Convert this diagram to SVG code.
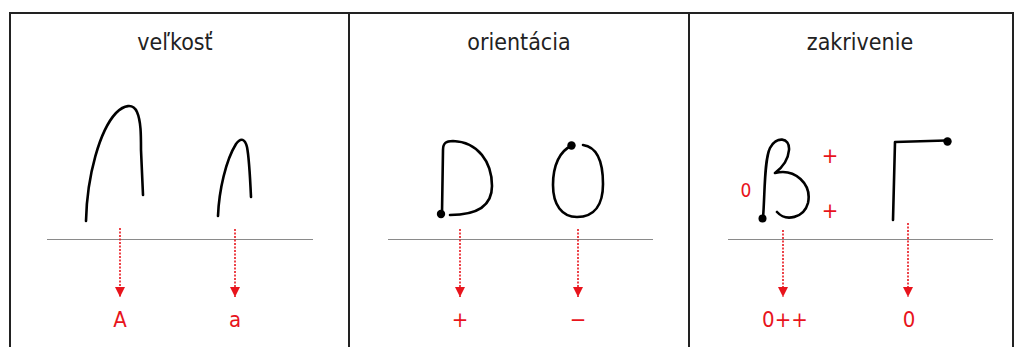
<svg xmlns="http://www.w3.org/2000/svg" width="1016" height="347" viewBox="0 0 1016 347">
<style>
.frame{fill:none;stroke:#222;stroke-width:2}
.base{stroke:#8a8a8a;stroke-width:1.2}
.title{font-family:"DejaVu Sans Condensed","DejaVu Sans",sans-serif;font-size:23px;fill:#222;text-anchor:middle}
.lbl{font-family:"DejaVu Sans Condensed","DejaVu Sans",sans-serif;font-size:22px;fill:#e8141c;text-anchor:middle}
.sm{font-size:19px}
.ink{fill:none;stroke:#000;stroke-width:2.6;stroke-linecap:round;stroke-linejoin:round}
.arr{stroke:#e8141c;stroke-width:1.6;stroke-dasharray:2 1.5;marker-end:url(#ah)}
.dot{fill:#000}
</style>
<defs>
<marker id="ah" viewBox="0 0 10 10" refX="10" refY="5" markerWidth="10" markerHeight="10" markerUnits="userSpaceOnUse" orient="auto">
<path d="M0,0 L10,5 L0,10 Z" fill="#e8141c"/>
</marker>
</defs>
<rect width="1016" height="347" fill="#fff"/>
<g id="frame">
<path class="frame" d="M10,348 V13 H1013 V348 M349,13 V348 M689,13 V348"/>
</g>
<g id="panel-velkost">
<text class="title" x="175" y="50">veľkosť</text>
<line class="base" x1="47" y1="239.5" x2="313" y2="239.5"/>
<path class="ink" d="M86,221 C87,175 100,130 116,113 C124,105 133,103 137,112 C141,121 141,135 141,150 L143,195" stroke-width="3"/>
<path class="ink" stroke-width="1.6" d="M218,216 C219,190 226,160 236,144 C241,137 245,139 247,147 C249,157 250,175 251,197"/>
</g>
<g id="panel-orientacia">
<text class="title" x="519" y="50">orientácia</text>
<line class="base" x1="388" y1="239.5" x2="653" y2="239.5"/>
<path class="ink" d="M442,213 L443,150 C443,143 446,141 453,141 C478,142 492,162 492,186 C492,205 479,215 450,215"/>
<circle class="dot" cx="441" cy="214" r="4.2"/>
<path class="ink" d="M571,146 C560,151 553,165 553,185 C553,205 562,217 577,217 C595,217 603,204 603,184 C603,160 597,147 583,145"/>
<circle class="dot" cx="571.5" cy="145.5" r="4.2"/>
</g>
<g id="panel-zakrivenie">
<text class="title" x="860" y="50">zakrivenie</text>
<line class="base" x1="728" y1="239.5" x2="993" y2="239.5"/>
<path class="ink" d="M763,218 C765,195 764,160 770,148 C776,136 790,137 789,150 C788,162 779,170 775,173 C795,168 812,184 808,203 C804,218 786,222 777,212"/>
<circle class="dot" cx="762.5" cy="218.5" r="4"/>
<path class="ink" d="M893,220 L895,142 L946,140.5"/>
<circle class="dot" cx="947.5" cy="141.5" r="4.2"/>
<text class="lbl sm" x="746" y="197">0</text>
<text class="lbl" x="830" y="163">+</text>
<text class="lbl" x="830" y="218">+</text>
</g>
<g id="connectors">
<line class="arr" x1="120" y1="228" x2="120" y2="297"/>
<line class="arr" x1="235" y1="229" x2="235" y2="297"/>
<line class="arr" x1="460" y1="229" x2="460" y2="297"/>
<line class="arr" x1="578" y1="229" x2="578" y2="297"/>
<line class="arr" x1="783" y1="230" x2="783" y2="297"/>
<line class="arr" x1="908" y1="223" x2="908" y2="297"/>
</g>
<g id="labels">
<text class="lbl" x="120" y="327">A</text>
<text class="lbl" x="235" y="327">a</text>
<text class="lbl" x="460" y="327">+</text>
<text class="lbl" x="578" y="327">−</text>
<text class="lbl" x="785" y="327">0++</text>
<text class="lbl" x="909" y="327">0</text>
</g>
</svg>
